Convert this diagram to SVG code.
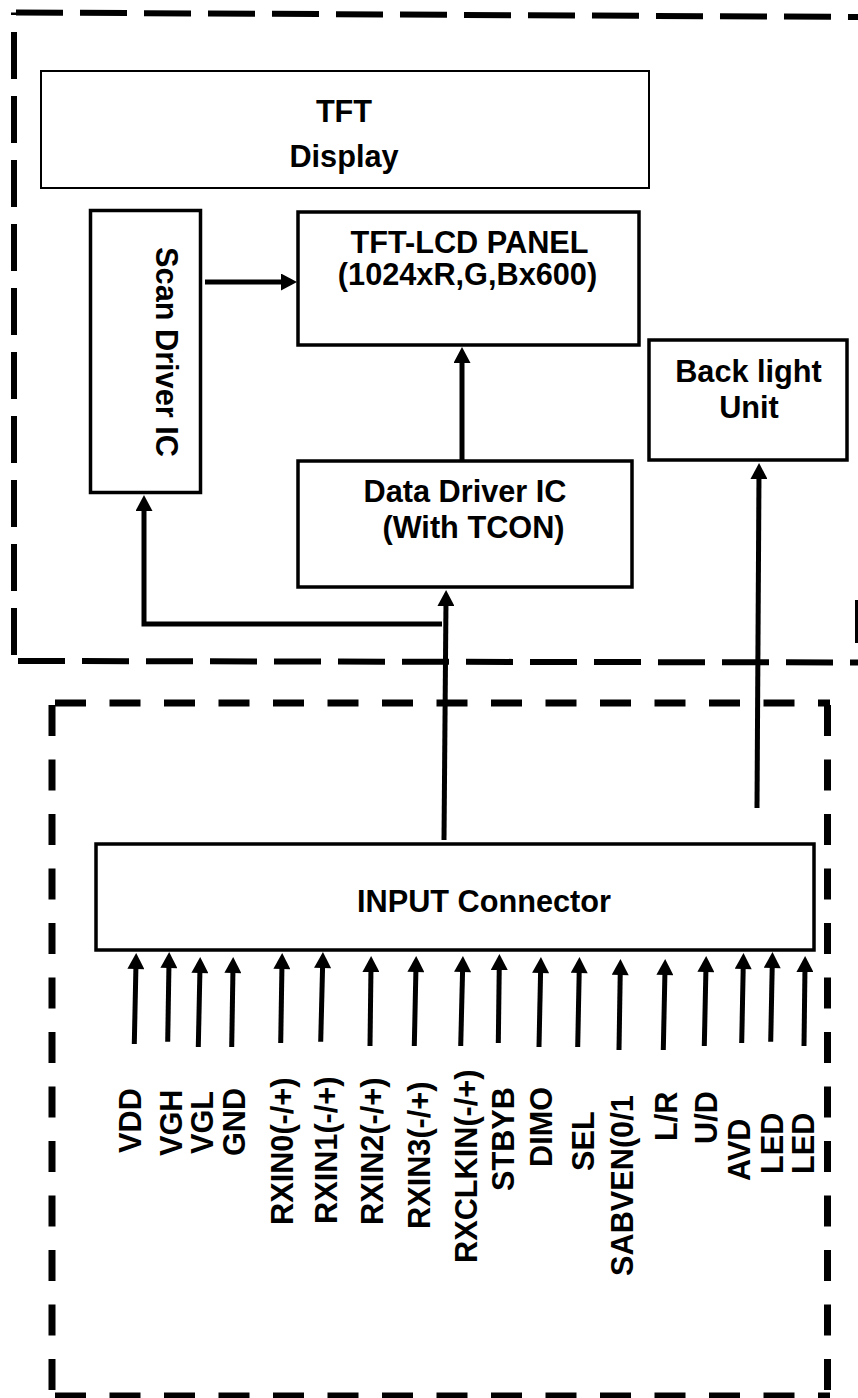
<svg xmlns="http://www.w3.org/2000/svg" width="858" height="1398" viewBox="0 0 858 1398">
<style>
.t{font-family:"Liberation Sans",Arial,sans-serif;font-weight:bold;font-size:30.7px;fill:#000}
.box{fill:#fff;stroke:#000;stroke-width:3.5}
.thin{fill:#fff;stroke:#000;stroke-width:2}
.dashA{fill:none;stroke:#000;stroke-width:6;stroke-dasharray:47 17}
.dashB{fill:none;stroke:#000;stroke-width:7;stroke-dasharray:31 23.5}
.c{fill:none;stroke:#000;stroke-width:5;marker-end:url(#ah)}
</style>
<defs>
<marker id="ah" markerUnits="userSpaceOnUse" markerWidth="17" markerHeight="17" viewBox="0 0 16 17" refX="6" refY="8.5" orient="auto"><path d="M0,0 L16,8.5 L0,17 z" fill="#000"/></marker>
</defs>
<rect width="858" height="1398" fill="#fff"/>

<g id="frame-top">
<path class="dashA" d="M16,12.5 L858,17"/>
<path class="dashA" style="stroke-dashoffset:44.5" d="M14,12.5 L14,661"/>
<path class="dashA" d="M18,661 L858,662.5"/>
<line x1="856.5" y1="600" x2="856.5" y2="643" stroke="#000" stroke-width="3"/>
</g>

<g id="frame-bottom">
<path class="dashB" d="M55,703 L830,703"/>
<path class="dashB" d="M55,1396 L830,1396"/>
<path class="dashB" d="M52,705 L52,1398"/>
<path class="dashB" d="M827.5,705 L827.5,1398"/>
</g>

<g id="tft-display">
<rect class="thin" x="41" y="71" width="608" height="117"/>
<text class="t" x="344" y="122" text-anchor="middle">TFT</text>
<text class="t" x="344" y="167" text-anchor="middle">Display</text>
</g>

<g id="scan-driver">
<rect class="box" x="90.5" y="210.5" width="110" height="282"/>
<text class="t" transform="translate(156,352) rotate(90)" text-anchor="middle">Scan Driver IC</text>
</g>

<g id="tft-lcd-panel">
<rect class="box" x="298" y="212" width="341" height="133"/>
<text class="t" x="469.5" y="253" text-anchor="middle">TFT-LCD PANEL</text>
<text class="t" x="467.5" y="285" text-anchor="middle">(1024xR,G,Bx600)</text>
</g>

<g id="data-driver">
<rect class="box" x="298" y="461" width="334" height="126"/>
<text class="t" x="465" y="502" text-anchor="middle">Data Driver IC</text>
<text class="t" x="473.5" y="538" text-anchor="middle">(With TCON)</text>
</g>

<g id="backlight">
<rect class="box" x="649" y="340" width="198" height="120"/>
<text class="t" x="748.5" y="382" text-anchor="middle">Back light</text>
<text class="t" x="749" y="418" text-anchor="middle">Unit</text>
</g>

<g id="input-connector">
<rect class="box" x="96" y="844" width="718" height="106"/>
<text class="t" x="357" y="912">INPUT Connector</text>
</g>

<g id="connectors">
<line class="c" x1="205" y1="282" x2="287" y2="282"/>
<line class="c" x1="462" y1="461" x2="462" y2="357"/>
<line class="c" x1="757" y1="808" x2="759" y2="473"/>
<line class="c" x1="444" y1="840" x2="446" y2="600"/>
<polyline class="c" points="442,624 144,624 144,505"/>
<line class="c" x1="134.3" y1="1044" x2="136" y2="963"/>
<line class="c" x1="167.7" y1="1041.7" x2="169" y2="962"/>
<line class="c" x1="198.3" y1="1047" x2="200" y2="967"/>
<line class="c" x1="231.7" y1="1047" x2="233" y2="967"/>
<line class="c" x1="280.7" y1="1043" x2="282" y2="963"/>
<line class="c" x1="320.7" y1="1041.7" x2="322.7" y2="962"/>
<line class="c" x1="370" y1="1046" x2="371" y2="966"/>
<line class="c" x1="414.3" y1="1046" x2="416" y2="966"/>
<line class="c" x1="460.7" y1="1046" x2="462.7" y2="966"/>
<line class="c" x1="498.3" y1="1043" x2="499.3" y2="964"/>
<line class="c" x1="539" y1="1047" x2="540.7" y2="967"/>
<line class="c" x1="577.7" y1="1047" x2="579.3" y2="967"/>
<line class="c" x1="619" y1="1050" x2="620.3" y2="969"/>
<line class="c" x1="663.3" y1="1050" x2="665" y2="969"/>
<line class="c" x1="704.3" y1="1046" x2="706" y2="966"/>
<line class="c" x1="741.7" y1="1043" x2="743.3" y2="963"/>
<line class="c" x1="770.7" y1="1041.7" x2="772.3" y2="962"/>
<line class="c" x1="804" y1="1046" x2="805" y2="966"/>
</g>

<g id="pin-labels">
<text class="t" transform="translate(140.7,1153) rotate(-90)">VDD</text>
<text class="t" transform="translate(181.7,1156) rotate(-90)">VGH</text>
<text class="t" transform="translate(213.3,1154) rotate(-90)">VGL</text>
<text class="t" transform="translate(245,1156) rotate(-90)">GND</text>
<text class="t" transform="translate(293.3,1225) rotate(-90)">RXIN0(-/+)</text>
<text class="t" transform="translate(336.7,1224) rotate(-90)">RXIN1(-/+)</text>
<text class="t" transform="translate(382.7,1225) rotate(-90)">RXIN2(-/+)</text>
<text class="t" transform="translate(430,1229) rotate(-90)">RXIN3(-/+)</text>
<text class="t" transform="translate(476.7,1263) rotate(-90)">RXCLKIN(-/+)</text>
<text class="t" transform="translate(514,1191) rotate(-90)">STBYB</text>
<text class="t" transform="translate(551.7,1167) rotate(-90)">DIMO</text>
<text class="t" transform="translate(594,1171) rotate(-90)">SEL</text>
<text class="t" transform="translate(632.7,1276) rotate(-90)">SABVEN(0/1</text>
<text class="t" transform="translate(677.3,1141) rotate(-90)">L/R</text>
<text class="t" transform="translate(716.7,1144) rotate(-90)">U/D</text>
<text class="t" transform="translate(750,1181) rotate(-90)">AVD</text>
<text class="t" transform="translate(783.3,1174) rotate(-90)">LED</text>
<text class="t" transform="translate(814,1174) rotate(-90)">LED</text>
</g>
</svg>
